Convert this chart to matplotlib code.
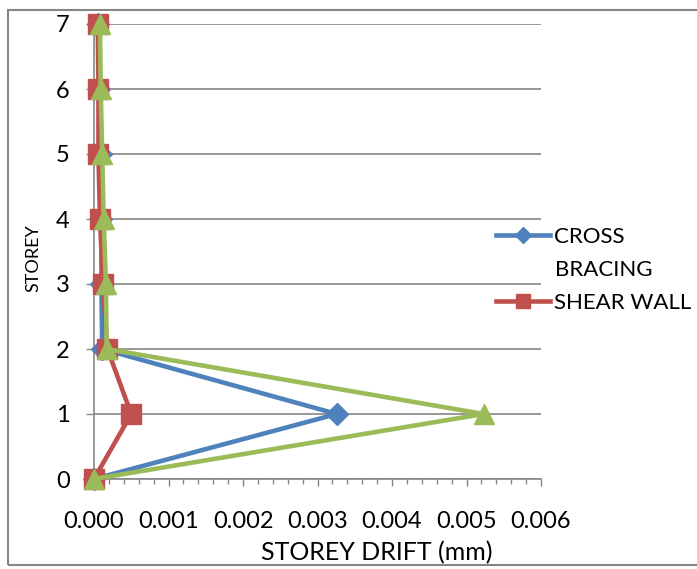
import matplotlib.pyplot as plt
from matplotlib.patches import Rectangle
from matplotlib.ticker import MultipleLocator, FormatStrFormatter

plt.rcParams['font.family'] = ['Lato', 'DejaVu Sans']

# storey drift per level
storeys = [0, 1, 2, 3, 4, 5, 6, 7]
drift_bracing = [0.0, 0.00326, 0.00011, 0.00010, 0.00010, 0.00009, 0.00007, 0.00006]
drift_shear_wall = [0.0, 0.00050, 0.00018, 0.00012, 0.00008, 0.00006, 0.00006, 0.00005]
drift_third = [0.0, 0.00523, 0.00017, 0.00016, 0.00013, 0.00011, 0.00009, 0.00008]

BLUE = '#4F81BD'
RED = '#C0504D'
GREEN = '#9BBB59'
GREY = '#868686'

W, H = 697, 569
fig = plt.figure(figsize=(W / 100, H / 100), dpi=100)

# outer chart frame (runs off the right edge)
fig.patches.append(Rectangle((8 / W, 4 / H), 1.0, (H - 14) / H, transform=fig.transFigure,
                             fill=False, edgecolor=GREY, linewidth=1.5, clip_on=False))

ax = fig.add_axes([94 / W, (H - 479) / H, 447 / W, 455 / H])

l1, = ax.plot(drift_bracing, storeys, color=BLUE, lw=3.3, marker='D', ms=11, clip_on=False, zorder=3)
l2, = ax.plot(drift_shear_wall, storeys, color=RED, lw=3.3, marker='s', ms=14, clip_on=False, zorder=4)
ax.plot(drift_third, storeys, color=GREEN, lw=3.3, marker='^', ms=14, clip_on=False, zorder=5)

ax.set_xlim(0, 0.006)
ax.set_ylim(0, 7)
ax.xaxis.set_major_locator(MultipleLocator(0.001))
ax.xaxis.set_minor_locator(MultipleLocator(0.0002))
ax.xaxis.set_major_formatter(FormatStrFormatter('%.3f'))
ax.yaxis.set_major_locator(MultipleLocator(1))

for s in ['top', 'right']:
    ax.spines[s].set_visible(False)
for s in ['left', 'bottom']:
    ax.spines[s].set_color(GREY)
    ax.spines[s].set_linewidth(1.2)

ax.grid(axis='y', color=GREY, lw=1.2)
ax.set_axisbelow(True)

ax.tick_params(axis='x', which='major', length=5, width=1, color=GREY, pad=18, labelsize=17)
ax.tick_params(axis='x', which='minor', length=3.5, width=1, color=GREY)
ax.tick_params(axis='y', which='major', length=5.5, width=1, color=GREY, pad=12, labelsize=17)

ax.set_xlabel('STOREY DRIFT (mm)', fontsize=18)
ax.xaxis.label.set_va('center')
ax.xaxis.set_label_coords((377 - 94) / 447, (479 - 553) / 455)
ax.set_ylabel('STOREY', fontsize=13)
ax.yaxis.label.set_va('center')
ax.yaxis.set_label_coords((33 - 94) / 447, (479 - 258) / 455)

leg = ax.legend([l1, l2], ['CROSS', 'SHEAR WALL'], loc='upper left',
                bbox_to_anchor=(496 / W, (H - 227) / H), bbox_transform=fig.transFigure,
                frameon=False, fontsize=16, handlelength=2.45, handletextpad=0.18,
                markerscale=0.7, labelspacing=2.05, borderpad=0, borderaxespad=0)
fig.text(555 / W, (H - 270) / H, 'BRACING', fontsize=16, ha='left', va='center')

fig.savefig('out.png', dpi=100)
